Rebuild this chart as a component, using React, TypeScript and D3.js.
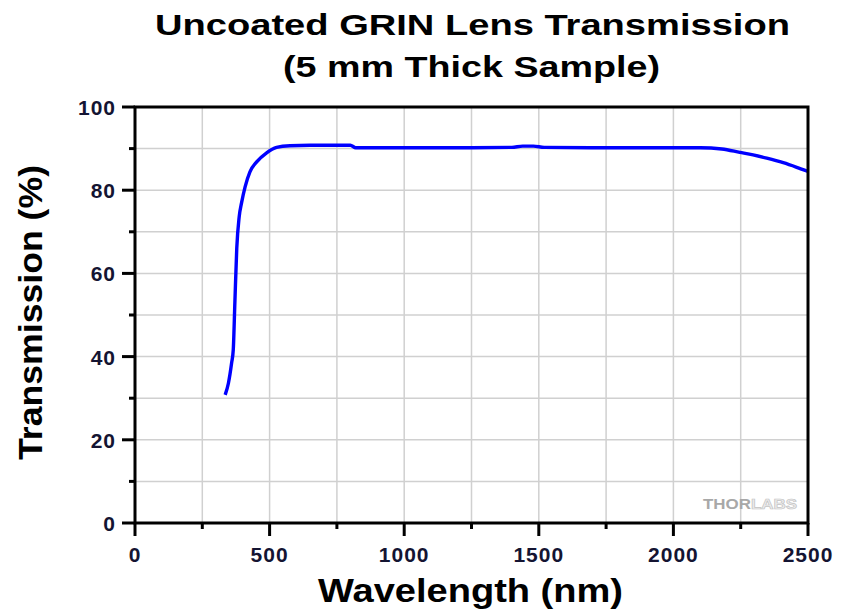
import React from "react";
import * as d3 from "d3";

const wavelengths = [335, 347, 359, 365, 371, 378, 387, 396, 409, 427, 452, 489, 526, 576, 650, 800, 820, 1000, 1200, 1400, 1440, 1480, 1520, 1700, 1900, 2100, 2180, 2247, 2296, 2347, 2408, 2458, 2500];
const transmission = [30.8, 33.6, 38.5, 41.6, 53, 66, 73.6, 77, 80.8, 84.4, 86.8, 89, 90.3, 90.7, 90.8, 90.8, 90.2, 90.2, 90.2, 90.3, 90.6, 90.6, 90.3, 90.2, 90.2, 90.2, 89.9, 89.1, 88.5, 87.7, 86.6, 85.5, 84.5];
const xTicks = [0, 500, 1000, 1500, 2000, 2500];
const yTicks = [0, 20, 40, 60, 80, 100];
const xGrid = d3.range(0, 2501, 250);
const yGrid = d3.range(0, 101, 10);

export default function App() {
  const W = 841, H = 611;
  const x = d3.scaleLinear().domain([0, 2500]).range([135, 808]);
  const y = d3.scaleLinear().domain([0, 100]).range([523, 107]);
  const data = wavelengths.map((w, i) => [w, transmission[i]] as [number, number]);
  const line = d3.line<[number, number]>().x(d => x(d[0])).y(d => y(d[1])).curve(d3.curveMonotoneX);
  const font = "Liberation Sans, Arial, sans-serif";
  const tickColor = "#141432";
  return (
    <svg width={W} height={H} style={{ position: "absolute", left: 0, top: 0, background: "#fff" }} fontFamily={font}>
      <rect x={0} y={0} width={W} height={H} fill="#fff" />
      <text x={155} y={35} fontWeight="bold" fontSize={30} textLength={635} lengthAdjust="spacingAndGlyphs">Uncoated GRIN Lens Transmission</text>
      <text x={283} y={77} fontWeight="bold" fontSize={30} textLength={377} lengthAdjust="spacingAndGlyphs">(5 mm Thick Sample)</text>
      {xGrid.map(v => (
        <line key={"gx" + v} x1={x(v)} x2={x(v)} y1={y(0)} y2={y(100)} stroke="#d0d0d0" strokeWidth={1.5} />
      ))}
      {yGrid.map(v => (
        <line key={"gy" + v} x1={x(0)} x2={x(2500)} y1={y(v)} y2={y(v)} stroke="#d0d0d0" strokeWidth={1.5} />
      ))}
      <g fontSize={15} fontWeight="bold">
        <text x={703} y={509} textLength={94} lengthAdjust="spacingAndGlyphs">
          <tspan fill="#a8a8a8">THOR</tspan>
          <tspan fill="#ececec" stroke="#c4c4c4" strokeWidth={0.7}>LABS</tspan>
        </text>
      </g>
      <path d={line(data) || ""} fill="none" stroke="#0000ff" strokeWidth={3.4} />
      <rect x={x(0)} y={y(100)} width={x(2500) - x(0)} height={y(0) - y(100)} fill="none" stroke="#000" strokeWidth={3} />
      {xGrid.map(v => (
        <line key={"tx" + v} x1={x(v)} x2={x(v)} y1={y(0)} y2={y(0) + (v % 500 === 0 ? 13 : 6)} stroke="#000" strokeWidth={3} />
      ))}
      {yGrid.map(v => (
        <line key={"ty" + v} x1={x(0)} x2={x(0) - (v % 20 === 0 ? 13 : 6)} y1={y(v)} y2={y(v)} stroke="#000" strokeWidth={3} />
      ))}
      {xTicks.map(v => (
        <text key={"lx" + v} x={x(v)} y={562} textAnchor="middle" fontSize={21} fontWeight="bold" letterSpacing={1} fill={tickColor}>{v}</text>
      ))}
      {yTicks.map(v => (
        <text key={"ly" + v} x={116} y={y(v) + 8} textAnchor="end" fontSize={21} fontWeight="bold" letterSpacing={1} fill={tickColor}>{v}</text>
      ))}
      <text x={318} y={602} fontWeight="bold" fontSize={34} textLength={305} lengthAdjust="spacingAndGlyphs">Wavelength (nm)</text>
      <text transform={`translate(42,460) rotate(-90)`} fontWeight="bold" fontSize={34} textLength={295} lengthAdjust="spacingAndGlyphs">Transmission (%)</text>
    </svg>
  );
}
